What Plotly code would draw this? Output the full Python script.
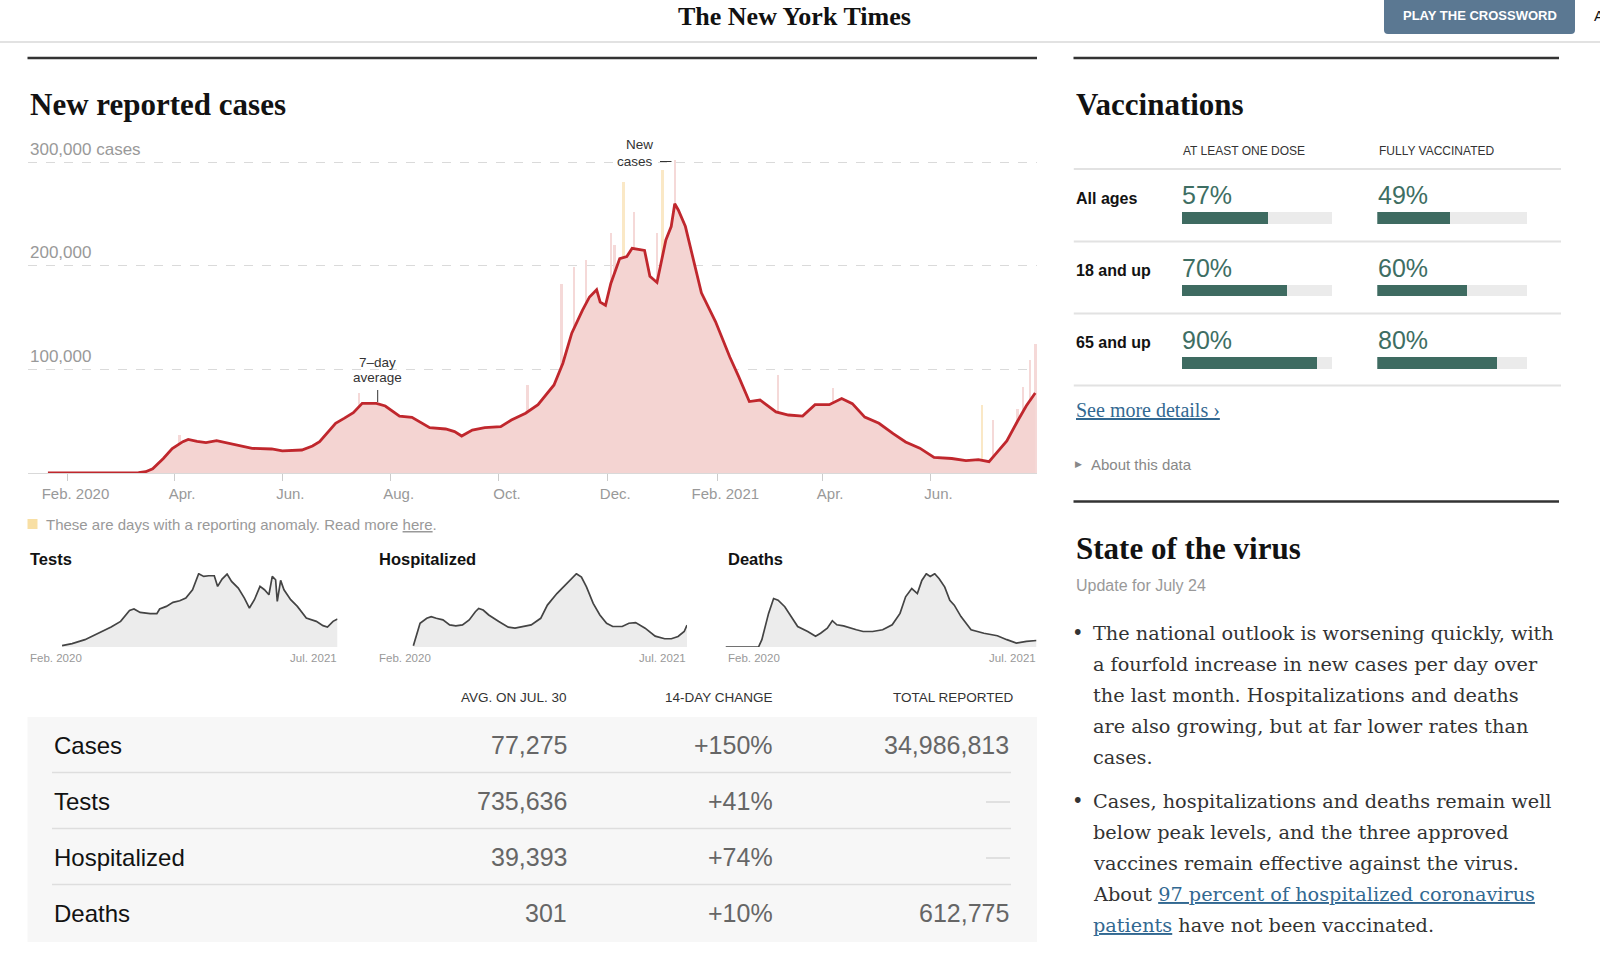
import plotly.graph_objects as go

W, H = 1600, 960
SANS = "Liberation Sans, Arial, sans-serif"
SERIF_B = "Liberation Serif, Times New Roman, serif"
BODY = "DejaVu Serif, Georgia, serif"

# ---------------- data ----------------
avg_dates = [
    "2020-01-21", "2020-02-15", "2020-03-05", "2020-03-12", "2020-03-16", "2020-03-20", "2020-03-26",
    "2020-03-31", "2020-04-06", "2020-04-09", "2020-04-14", "2020-04-19", "2020-04-25", "2020-05-01",
    "2020-05-06", "2020-05-15", "2020-05-26", "2020-06-01", "2020-06-12", "2020-06-18", "2020-06-22",
    "2020-07-01", "2020-07-06", "2020-07-11", "2020-07-16", "2020-07-24", "2020-07-29", "2020-08-06",
    "2020-08-13", "2020-08-23", "2020-09-01", "2020-09-06", "2020-09-10", "2020-09-16", "2020-09-23",
    "2020-10-02", "2020-10-08", "2020-10-16", "2020-10-23", "2020-11-01", "2020-11-06", "2020-11-11",
    "2020-11-17", "2020-11-21", "2020-11-25", "2020-11-27", "2020-11-30", "2020-12-03", "2020-12-08",
    "2020-12-12", "2020-12-15", "2020-12-22", "2020-12-25", "2020-12-29", "2021-01-03", "2021-01-06",
    "2021-01-08", "2021-01-10", "2021-01-14", "2021-01-18", "2021-01-23", "2021-01-31", "2021-02-08",
    "2021-02-13", "2021-02-19", "2021-02-25", "2021-03-06", "2021-03-13", "2021-03-21", "2021-03-28",
    "2021-04-05", "2021-04-12", "2021-04-18", "2021-04-25", "2021-05-03", "2021-05-11", "2021-05-18",
    "2021-05-26", "2021-06-03", "2021-06-13", "2021-06-21", "2021-06-28", "2021-07-04", "2021-07-08",
    "2021-07-14", "2021-07-20", "2021-07-25", "2021-07-30",
]
avg_values = [
    0, 0, 100, 400, 1200, 4000, 14000,
    23500, 30300, 32500, 30500, 29300, 31200, 29000,
    27700, 23800, 23200, 21300, 22200, 26100, 30300,
    48000, 53000, 58300, 67300, 67300, 64700, 55000,
    53800, 43800, 42500, 40000, 35700, 41500, 43800,
    44800, 51200, 57700, 66000, 85000, 106000, 135000,
    157000, 170000, 177000, 165000, 162000, 183000, 207000,
    209000, 217000, 215000, 190000, 184000, 225000, 238000,
    260000, 254000, 238000, 209000, 174000, 146000, 112000,
    93000, 69000, 70500, 59000, 56000, 55000, 66000,
    66000, 72000, 67000, 54000, 48000, 38000, 30000,
    24000, 15000, 14000, 12000, 13000, 11000, 19000,
    31000, 50000, 65000, 77275,
]

spike_dates = ["2020-04-04", "2020-07-14", "2020-10-17", "2020-11-05", "2020-11-12", "2020-11-19",
               "2020-12-03", "2020-12-05", "2020-12-16", "2020-12-29", "2021-01-08", "2021-03-07",
               "2021-04-07", "2021-07-06", "2021-07-20", "2021-07-23", "2021-07-27", "2021-07-30"]
spike_values = [36700, 77000, 85000, 183000, 199000, 206000,
                232000, 220000, 252000, 232000, 302000, 94700,
                82000, 51000, 62000, 83000, 109000, 125000]

anomaly_dates = ["2020-12-10", "2021-01-01", "2021-06-30"]
anomaly_values = [281000, 293000, 65700]

x_tick_dates = ["2020-02-01", "2020-04-01", "2020-06-01", "2020-08-01", "2020-10-01",
                "2020-12-01", "2021-02-01", "2021-04-01", "2021-06-01"]
x_tick_text = ["Feb. 2020", "Apr.", "Jun.", "Aug.", "Oct.", "Dec.", "Feb. 2021", "Apr.", "Jun."]
y_tick_values = [100000, 200000, 300000]
y_tick_text = ["100,000", "200,000", "300,000 cases"]

tests_dates = ["2020-03-23", "2020-04-10", "2020-05-03", "2020-05-27", "2020-06-19", "2020-07-06",
               "2020-07-22", "2020-07-30", "2020-08-10", "2020-08-28", "2020-09-09", "2020-09-14",
               "2020-09-26", "2020-10-08", "2020-10-20", "2020-10-31", "2020-11-12", "2020-11-23",
               "2020-12-02", "2020-12-11", "2020-12-21", "2020-12-27", "2021-01-04", "2021-01-13",
               "2021-01-21", "2021-02-02", "2021-02-13", "2021-02-22", "2021-03-03", "2021-03-13",
               "2021-03-21", "2021-03-29", "2021-04-04", "2021-04-10", "2021-04-13", "2021-04-19",
               "2021-04-25", "2021-05-07", "2021-05-19", "2021-06-04", "2021-06-22", "2021-07-04",
               "2021-07-12", "2021-07-22", "2021-07-30"]
tests_values = [35000, 88000, 193000, 369000, 527000, 676000,
                966000, 1001000, 913000, 878000, 878000, 1001000,
                1071000, 1177000, 1220000, 1291000, 1510000, 1932000,
                1861000, 1879000, 1879000, 1598000, 1791000, 1923000,
                1730000, 1554000, 1291000, 1027000, 1247000, 1598000,
                1510000, 1378000, 1861000, 1773000, 1203000, 1756000,
                1510000, 1247000, 1071000, 764000, 676000, 562000,
                527000, 676000, 735636]

hosp_dates = ["2020-03-27", "2020-04-08", "2020-04-20", "2020-04-28", "2020-05-07", "2020-05-19",
              "2020-05-31", "2020-06-11", "2020-06-23", "2020-07-05", "2020-07-16", "2020-07-22",
              "2020-07-30", "2020-08-09", "2020-08-27", "2020-09-13", "2020-09-25", "2020-10-06",
              "2020-10-24", "2020-11-10", "2020-11-22", "2020-12-09", "2020-12-27", "2021-01-08",
              "2021-01-13", "2021-01-22", "2021-01-31", "2021-02-12", "2021-02-24", "2021-03-08",
              "2021-03-19", "2021-04-05", "2021-04-17", "2021-04-29", "2021-05-16", "2021-06-03",
              "2021-06-20", "2021-07-02", "2021-07-14", "2021-07-25", "2021-07-30"]
hosp_values = [2400, 42800, 51700, 54700, 51700, 48800,
               39800, 38100, 39800, 48800, 63600, 69600,
               66600, 57700, 45800, 35700, 33900, 35700,
               39800, 51700, 75500, 96300, 114200, 127200,
               132000, 126100, 108200, 78500, 57700, 42800,
               36900, 36900, 42800, 44000, 33900, 19600,
               14900, 14900, 19000, 27900, 39393]

deaths_dates = ["2020-01-21", "2020-03-20", "2020-03-26", "2020-04-07", "2020-04-16", "2020-04-24",
                "2020-05-06", "2020-05-18", "2020-05-29", "2020-06-16", "2020-06-30", "2020-07-09",
                "2020-07-21", "2020-07-30", "2020-08-07", "2020-08-19", "2020-08-31", "2020-09-11",
                "2020-09-23", "2020-10-10", "2020-10-28", "2020-11-14", "2020-11-28", "2020-12-08",
                "2020-12-19", "2020-12-29", "2021-01-06", "2021-01-14", "2021-01-21", "2021-01-29",
                "2021-02-06", "2021-02-16", "2021-02-25", "2021-03-05", "2021-03-17", "2021-04-04",
                "2021-04-27", "2021-05-21", "2021-06-07", "2021-06-24", "2021-07-12", "2021-07-30"]
deaths_values = [0, 0, 340, 1560, 2250, 2170,
                 1870, 1420, 950, 720, 500, 640,
                 870, 1220, 1030, 980, 870, 800,
                 720, 720, 800, 1030, 1560, 2330,
                 2710, 2480, 3090, 3400, 3270, 3400,
                 3170, 2780, 2170, 1940, 1410, 800,
                 640, 520, 340, 180, 260, 301]

table_headers = ["AVG. ON JUL. 30", "14-DAY CHANGE", "TOTAL REPORTED"]
table_rows = ["Cases", "Tests", "Hospitalized", "Deaths"]
table_avg = ["77,275", "735,636", "39,393", "301"]
table_change = ["+150%", "+41%", "+74%", "+10%"]
table_total = ["34,986,813", None, None, "612,775"]

vacc_headers = ["AT LEAST ONE DOSE", "FULLY VACCINATED"]
vacc_groups = ["All ages", "18 and up", "65 and up"]
vacc_one_dose = [57, 70, 90]
vacc_full = [49, 60, 80]

bullet_1 = ["The national outlook is worsening quickly, with",
            "a fourfold increase in new cases per day over",
            "the last month. Hospitalizations and deaths",
            "are also growing, but at far lower rates than",
            "cases."]
LINK = '<span style="color:#326891;text-decoration:underline">{}</span>'
bullet_2 = ["Cases, hospitalizations and deaths remain well",
            "below peak levels, and the three approved",
            "vaccines remain effective against the virus.",
            "About " + LINK.format("97 percent of hospitalized coronavirus"),
            LINK.format("patients") + " have not been vaccinated."]

# ---------------- helpers ----------------
def fx(p):
    return p / W


def fy(p):
    return 1 - p / H


anns = []
shapes = []


def A(text, x, y, size=14, color="#333", family=SANS, xanchor="left", yanchor="middle", **kw):
    d = dict(text=text, x=fx(x), y=fy(y), xref="paper", yref="paper", showarrow=False,
             xanchor=xanchor, yanchor=yanchor, align=xanchor if xanchor != "center" else "center",
             font=dict(size=size, color=color, family=family))
    d.update(kw)
    anns.append(d)


def hline(x0, x1, y, color, width=1, dash=None):
    ln = dict(color=color, width=width)
    if dash:
        ln["dash"] = dash
    shapes.append(dict(type="line", xref="paper", yref="paper", x0=fx(x0), x1=fx(x1),
                       y0=fy(y), y1=fy(y), line=ln))


def rect(x0, x1, y0, y1, color):
    shapes.append(dict(type="rect", xref="paper", yref="paper", x0=fx(x0), x1=fx(x1),
                       y0=fy(y1), y1=fy(y0), fillcolor=color, line=dict(width=0), layer="below"))


fig = go.Figure()

# ---------------- main chart ----------------
PINK = "#f4d4d2"
fig.add_trace(go.Scatter(x=avg_dates, y=avg_values, mode="lines", fill="tozeroy",
                         fillcolor=PINK, line=dict(width=0), hoverinfo="skip", xaxis="x", yaxis="y"))
fig.add_trace(go.Bar(x=spike_dates, y=spike_values, width=86400000 * 1.1, marker_color="#f5d9d8",
                     marker_line_width=0, xaxis="x", yaxis="y"))
fig.add_trace(go.Bar(x=anomaly_dates, y=anomaly_values, width=86400000 * 1.1, marker_color="#fae8c6",
                     marker_line_width=0, xaxis="x", yaxis="y"))
fig.add_trace(go.Scatter(x=avg_dates, y=avg_values, mode="lines",
                         line=dict(color="#c0272d", width=2.8), xaxis="x", yaxis="y"))

# ---------------- small multiples ----------------
small = [(tests_dates, tests_values, 2), (hosp_dates, hosp_values, 3), (deaths_dates, deaths_values, 4)]
for dts, vals, k in small:
    fig.add_trace(go.Scatter(x=dts, y=vals, mode="lines", fill="tozeroy", fillcolor="#ececec",
                             line=dict(color="#444444", width=1.7), xaxis=f"x{k}", yaxis=f"y{k}"))

# ---------------- vaccination bars ----------------
idx = list(range(len(vacc_groups)))
for vals, k in [(vacc_one_dose, 5), (vacc_full, 6)]:
    fig.add_trace(go.Bar(x=[100] * len(vals), y=idx, orientation="h", width=0.162,
                         marker_color="#ebebeb", marker_line_width=0, xaxis=f"x{k}", yaxis=f"y{k}"))
    fig.add_trace(go.Bar(x=vals, y=idx, orientation="h", width=0.162,
                         marker_color="#3e6b61", marker_line_width=0, xaxis=f"x{k}", yaxis=f"y{k}"))

# ---------------- layout axes ----------------
layout = dict(
    width=W, height=H, margin=dict(l=0, r=0, t=0, b=0),
    paper_bgcolor="white", plot_bgcolor="rgba(0,0,0,0)",
    showlegend=False, barmode="overlay", bargap=0,
    xaxis=dict(type="date", domain=[fx(27.5), fx(1037)], range=["2020-01-09 12:00", "2021-07-31"],
               tickmode="array", tickvals=x_tick_dates, ticktext=x_tick_text,
               ticks="outside", ticklen=7, tickcolor="#cccccc", tickwidth=1,
               showline=True, linecolor="#d9d9d9", linewidth=1, showgrid=False, zeroline=False,
               tickfont=dict(size=15, color="#999999", family=SANS), ticklabelshift=8,
               anchor="y", fixedrange=True),
    yaxis=dict(domain=[fy(473), fy(152)], range=[0, 310000], tickmode="array",
               tickvals=y_tick_values, showticklabels=False, showgrid=True,
               gridcolor="#dadada", griddash="dash", gridwidth=1, zeroline=False,
               anchor="x", fixedrange=True),
)
small_dom = {2: (27.5, 337.5), 3: (376.5, 687), 4: (725.5, 1036.5)}
for dts, vals, k in small:
    x0, x1 = small_dom[k]
    layout[f"xaxis{k}"] = dict(type="date", domain=[fx(x0), fx(x1)], range=["2020-01-21", "2021-07-30"],
                               visible=False, anchor=f"y{k}")
    layout[f"yaxis{k}"] = dict(domain=[fy(647), fy(573)], range=[0, max(vals) * 1.01],
                               visible=False, anchor=f"x{k}")
vac_dom = {5: (1181.8, 1332), 6: (1377.3, 1527.1)}
for k, (x0, x1) in vac_dom.items():
    layout[f"xaxis{k}"] = dict(domain=[fx(x0), fx(x1)], range=[0, 100], visible=False, anchor=f"y{k}")
    layout[f"yaxis{k}"] = dict(domain=[fy(398.9), fy(182.1)], range=[2.5, -0.5], visible=False,
                               anchor=f"x{k}")

# ---------------- header ----------------
hline(0, 1600, 42, "#e2e2e2", 2)
A("<b>The New York Times</b>", 794, 17, size=26, color="#111", family=SERIF_B, xanchor="center")
shapes.append(dict(type="path", xref="paper", yref="paper",
                   path=f"M {fx(1384)},{fy(0)} L {fx(1575)},{fy(0)} L {fx(1575)},{fy(30)} "
                        f"Q {fx(1575)},{fy(34)} {fx(1571)},{fy(34)} L {fx(1388)},{fy(34)} "
                        f"Q {fx(1384)},{fy(34)} {fx(1384)},{fy(30)} Z",
                   fillcolor="#5b7892", line=dict(width=0)))
A("<b>PLAY THE CROSSWORD</b>", 1479.5, 15.5, size=13, color="white", xanchor="center")
A("A", 1592, 15, size=15, color="#111")

# ---------------- left column ----------------
hline(27.5, 1037, 58, "#333333", 2.5)
A("<b>New reported cases</b>", 27.5, 104, size=31, color="#121212", family=SERIF_B)
for v, t in zip(y_tick_values, y_tick_text):
    anns.append(dict(text=t, x=fx(27.5), xref="paper", y=v, yref="y", yshift=13, showarrow=False,
                     xanchor="left", yanchor="middle", font=dict(size=17, color="#999999", family=SANS)))
A("7\u2013day", 377.7, 362.3, size=13.5, color="#333", xanchor="center")
A("average", 377.7, 377.3, size=13.5, color="#333", xanchor="center")
shapes.append(dict(type="line", xref="paper", yref="paper", x0=fx(377.7), x1=fx(377.7),
                   y0=fy(390), y1=fy(402), line=dict(color="#333", width=1)))
A("New", 655, 145, size=13.5, color="#333", xanchor="right")
A("cases", 655, 161.5, size=13.5, color="#333", xanchor="right")
hline(660, 671.5, 161.5, "#333", 1)

rect(27.5, 37.5, 519, 529, "#f8dfa4")
A('These are days with a reporting anomaly. Read more '
  '<span style="text-decoration:underline">here</span>.', 44, 524, size=15, color="#999999")

for (x0, x1), name in zip(small_dom.values(), ["Tests", "Hospitalized", "Deaths"]):
    A(f"<b>{name}</b>", x0, 559, size=16.5, color="#121212")
    A("Feb. 2020", x0, 658, size=11.5, color="#999999")
    A("Jul. 2021", x1 + 1, 658, size=11.5, color="#999999", xanchor="right")

# table
col_right = [568.5, 775, 1011]
head_right = [568.5, 775, 1016.5]
for h, xr in zip(table_headers, head_right):
    A(h, xr, 697, size=13.5, color="#333", xanchor="right")
rect(27.5, 1037, 717, 942, "#f7f7f7")
row_y = [745, 801, 857, 913]
for yy in [772.4, 828.5, 884.5]:
    hline(52, 1011, yy, "#dedede", 1.5)
for i, name in enumerate(table_rows):
    A(name, 52, row_y[i], size=24, color="#121212")
    A(table_avg[i], col_right[0], row_y[i], size=25, color="#666666", xanchor="right")
    A(table_change[i], col_right[1], row_y[i], size=25, color="#666666", xanchor="right")
    if table_total[i] is None:
        hline(986, 1010, row_y[i] + 1, "#d0d0d0", 1.2)
    else:
        A(table_total[i], col_right[2], row_y[i], size=25, color="#666666", xanchor="right")

# ---------------- right column ----------------
hline(1073.5, 1559, 58, "#333333", 2.5)
A("<b>Vaccinations</b>", 1073.5, 104, size=31, color="#121212", family=SERIF_B)
A(vacc_headers[0], 1181, 151, size=12, color="#333")
A(vacc_headers[1], 1377, 151, size=12, color="#333")
for yy in [169, 241.5, 313.5, 385.5]:
    hline(1073.8, 1561, yy, "#e2e2e2", 1.8)
for i, g in enumerate(vacc_groups):
    anns.append(dict(text=f"<b>{g}</b>", x=fx(1073.8), xref="paper", y=i, yref="y5", yshift=20,
                     showarrow=False, xanchor="left", yanchor="middle",
                     font=dict(size=16, color="#121212", family=SANS)))
    for v, xp in [(vacc_one_dose[i], 1180), (vacc_full[i], 1376)]:
        anns.append(dict(text=f"{v}%", x=fx(xp), xref="paper", y=i, yref="y5", yshift=23,
                         showarrow=False, xanchor="left", yanchor="middle",
                         font=dict(size=25, color="#3e6e63", family=SANS)))
A('<span style="text-decoration:underline">See more details \u203a</span>', 1073.5, 410,
  size=20, color="#326891", family=SERIF_B)
A("\u25b6", 1073, 464, size=9, color="#888888")
A("About this data", 1089, 464, size=15, color="#888888")

hline(1073.5, 1559, 501.5, "#333333", 2.5)
A("<b>State of the virus</b>", 1073.5, 548, size=31, color="#121212", family=SERIF_B)
A("Update for July 24", 1073.5, 585, size=16, color="#999999")
for lines, y0 in [(bullet_1, 633.3), (bullet_2, 801.7)]:
    A("\u2022", 1077.5, y0, size=19.5, color="#333", family=BODY, xanchor="center")
    for j, ln in enumerate(lines):
        A(ln, 1091, y0 + 31 * j, size=19.3, color="#333333", family=BODY)

layout["annotations"] = anns
layout["shapes"] = shapes
fig.update_layout(**layout)
fig.write_html("out.html", config={"displayModeBar": False},
               post_script="document.body.style.margin='0';document.body.style.padding='0';"
                           "document.body.style.overflow='hidden';")
